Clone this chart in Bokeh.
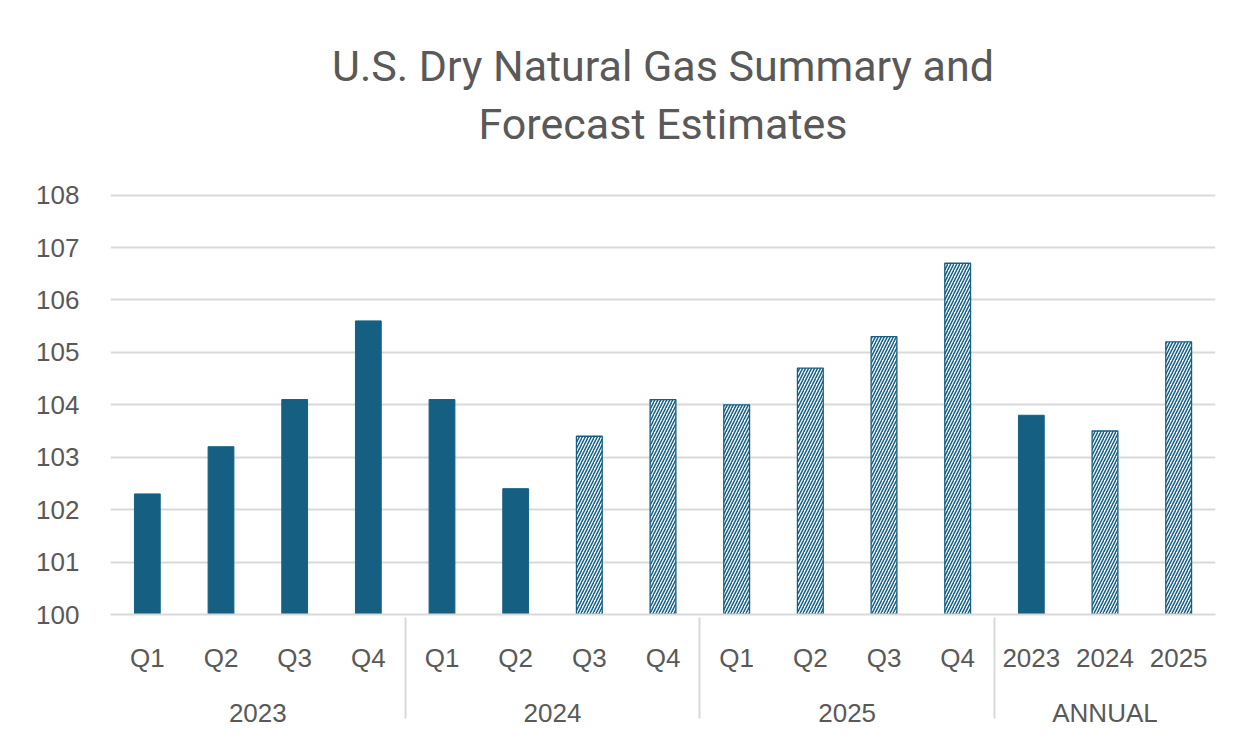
from bokeh.plotting import figure
from bokeh.models import ColumnDataSource, FactorRange, FixedTicker, Title, Range1d
from bokeh.embed import file_html
from bokeh.resources import INLINE

groups = ["2023", "2023", "2023", "2023", "2024", "2024", "2024", "2024",
          "2025", "2025", "2025", "2025", "ANNUAL", "ANNUAL", "ANNUAL"]
periods = ["Q1", "Q2", "Q3", "Q4", "Q1", "Q2", "Q3", "Q4",
           "Q1", "Q2", "Q3", "Q4", "2023", "2024", "2025"]
values = [102.3, 103.2, 104.1, 105.6, 104.1, 102.4, 103.4, 104.1,
          104.0, 104.7, 105.3, 106.7, 103.8, 103.5, 105.2]
forecast = [False, False, False, False, False, False, True, True,
            True, True, True, True, False, True, True]
y_ticks = [100, 101, 102, 103, 104, 105, 106, 107, 108]
title_lines = ["U.S. Dry Natural Gas Summary and", "Forecast Estimates"]

factors = list(zip(groups, periods))
BLUE = "#156082"
GRAY_TXT = "#595959"
GRID = "#d9d9d9"
FONT = "Liberation Sans"

act = ColumnDataSource(dict(x=[f for f, fc in zip(factors, forecast) if not fc],
                            top=[v for v, fc in zip(values, forecast) if not fc]))
fut = ColumnDataSource(dict(x=[f for f, fc in zip(factors, forecast) if fc],
                            top=[v for v, fc in zip(values, forecast) if fc]))

xr = FactorRange(*factors, range_padding=0, group_padding=0, factor_padding=0)
p = figure(x_range=xr, y_range=Range1d(100, 108.03), width=1219, height=733,
           output_backend="svg", toolbar_location=None,
           min_border_left=110, min_border_right=4, min_border_top=193,
           min_border_bottom=119)
p.background_fill_color = "white"
p.border_fill_color = "white"
p.outline_line_color = None

p.vbar(x="x", top="top", bottom=100, width=0.35, source=act,
       fill_color=BLUE, line_color=BLUE)
p.vbar(x="x", top="top", bottom=100, width=0.35, source=fut,
       fill_color="white", line_color=BLUE, line_width=1.3,
       hatch_pattern="right_diagonal_line", hatch_color=BLUE,
       hatch_scale=6, hatch_weight=1.5)

p.yaxis.ticker = FixedTicker(ticks=y_ticks)
p.yaxis.axis_line_color = None
p.yaxis.major_tick_line_color = None
p.yaxis.minor_tick_line_color = None
p.yaxis.major_label_text_font = FONT
p.yaxis.major_label_text_font_size = "26px"
p.yaxis.major_label_text_color = GRAY_TXT
p.yaxis.major_label_standoff = 25

p.ygrid.grid_line_color = GRID
p.ygrid.grid_line_width = 2
p.xgrid.grid_line_color = None

p.xaxis.axis_line_color = GRID
p.xaxis.axis_line_width = 2
p.xaxis.major_tick_line_color = None
p.xaxis.minor_tick_line_color = None
p.xaxis.major_label_text_font = FONT
p.xaxis.major_label_text_font_size = "26px"
p.xaxis.major_label_text_color = GRAY_TXT
p.xaxis.major_label_standoff = 22
p.xaxis.group_text_font = FONT
p.xaxis.group_text_font_size = "26px"
p.xaxis.group_text_color = GRAY_TXT
p.xaxis.group_text_font_style = "normal"
p.xaxis.separator_line_color = GRID
p.xaxis.separator_line_width = 2

# spacer panel between the frame and the two-line title
p.add_layout(Title(text=" ", text_font_size="10px", standoff=29), "above")
for txt, st, lh in [(title_lines[1], 6, 1.2), (title_lines[0], 5, 1.0)]:
    p.add_layout(Title(text=txt, align="center", text_font_size="43px",
                       text_line_height=lh, text_font="Roboto",
                       text_font_style="normal", text_color=GRAY_TXT,
                       standoff=st, offset=-32), "above")

open("out.html", "w").write(file_html(p, INLINE))
